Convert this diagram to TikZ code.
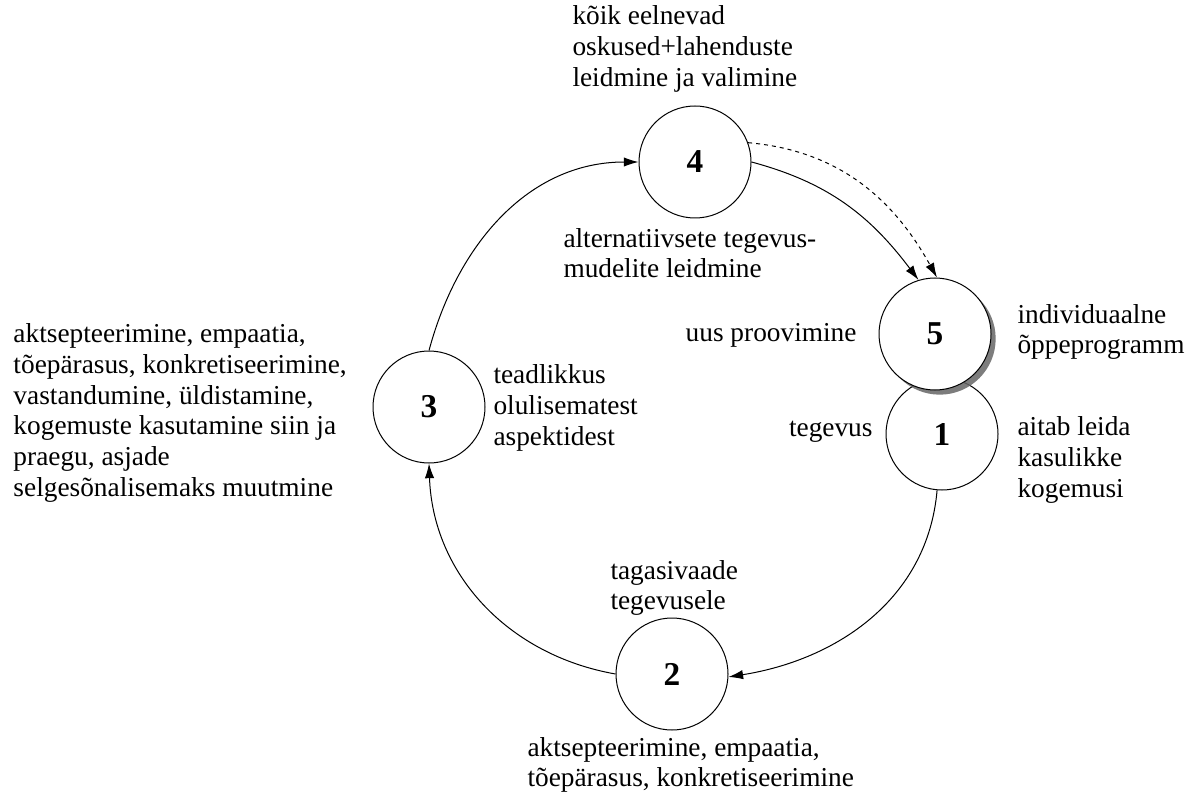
\documentclass[tikz,border=0pt]{standalone}
\usepackage{fontspec}
\setmainfont{Liberation Serif}
\usetikzlibrary{arrows.meta,shadows}
\begin{document}
\begin{tikzpicture}[x=0.75pt,y=-0.75pt,line width=0.75pt,
  num/.style={circle,draw,fill=white,minimum size=84pt,inner sep=0pt,font=\fontsize{25}{25}\selectfont\rmfamily\bfseries},
  txt/.style={anchor=west,align=left,inner sep=0pt,font=\fontsize{20.5}{23}\selectfont\rmfamily},
  arr/.style={-{Latex[length=11pt,width=7pt]}}]
\useasboundingbox (0,0) rectangle (1194,798);
\node[num] (n4) at (695,162) {4};
\node[num] (n3) at (429,407) {3};
\node[num] (n2) at (672,674) {2};
\node[num] (n1) at (942,434) {1};
\node[num,drop shadow={shadow xshift=3.5pt,shadow yshift=-3.5pt,fill=black!60,opacity=0.85}] (n5) at (935,334) {5};
\node[txt] (t4a) at (572,49) {kõik eelnevad\\oskused+lahenduste\\leidmine ja valimine};
\node[txt] (t4b) at (563,253) {alternatiivsete tegevus-\\mudelite leidmine};
\node[txt] (t3a) at (13,413) {aktsepteerimine, empaatia,\\tõepärasus, konkretiseerimine,\\vastandumine, üldistamine,\\kogemuste kasutamine siin ja\\praegu, asjade\\selgesõnalisemaks muutmine};
\node[txt] (t3b) at (493,408) {teadlikkus\\olulisematest\\aspektidest};
\node[txt] (t2a) at (610,588) {tagasivaade\\tegevusele};
\node[txt] (t2b) at (527,765) {aktsepteerimine, empaatia,\\tõepärasus, konkretiseerimine};
\node[txt,anchor=east] (t5a) at (857,335) {uus proovimine};
\node[txt] (t5b) at (1017,332) {individuaalne\\õppeprogramm};
\node[txt,anchor=east] (t1a) at (873,432) {tegevus};
\node[txt] (t1b) at (1017,460) {aitab leida\\kasulikke\\kogemusi};
\draw[arr] (n3.north) to[out=75,in=180] (n4.west);
\draw[arr] (n4.east) to[out=-15,in=127] (n5.107);
\draw[arr,dashed] (n4.20) to[out=-5,in=119] (n5.88);
\draw[arr] (n1.265) to[out=-95,in=9] (n2.-3);
\draw[arr] (n2.west) to[out=170,in=-88] (n3.south);
\end{tikzpicture}
\end{document}
